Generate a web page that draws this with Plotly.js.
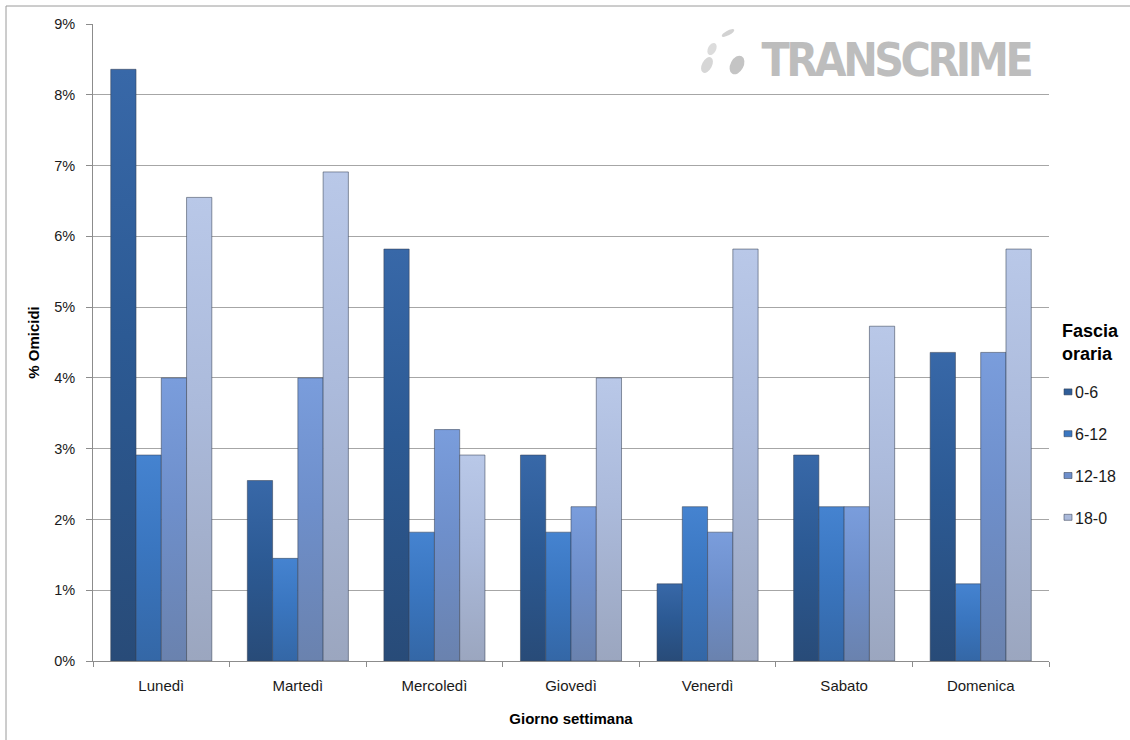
<!DOCTYPE html>
<html>
<head>
<meta charset="utf-8">
<script src="https://cdn.plot.ly/plotly-3.0.1.min.js"></script>
<style>
  html, body { margin: 0; padding: 0; background: #ffffff; }
  #chart { width: 1130px; height: 740px; }
</style>
</head>
<body>
<div id="chart"></div>
<script>
// Giorni della settimana (categorie sull'asse x)
const giorni = ['Lunedì', 'Martedì', 'Mercoledì', 'Giovedì', 'Venerdì', 'Sabato', 'Domenica'];

// Fasce orarie (serie)
const fasce = ['0-6', '6-12', '12-18', '18-0'];

// Percentuale di omicidi per giorno, una serie per fascia oraria
const omicidi_0_6   = [8.36, 2.55, 5.82, 2.91, 1.09, 2.91, 4.36];
const omicidi_6_12  = [2.91, 1.45, 1.82, 1.82, 2.18, 2.18, 1.09];
const omicidi_12_18 = [4.00, 4.00, 3.27, 2.18, 1.82, 2.18, 4.36];
const omicidi_18_0  = [6.55, 6.91, 2.91, 4.00, 5.82, 4.73, 5.82];

// Valori dei tick sull'asse y (in %)
const yTickVals = [0, 1, 2, 3, 4, 5, 6, 7, 8, 9];
const yTickText = ['0%', '1%', '2%', '3%', '4%', '5%', '6%', '7%', '8%', '9%'];

const serie = [omicidi_0_6, omicidi_6_12, omicidi_12_18, omicidi_18_0];

// Colori di base e sfumature (alto -> basso) per ogni fascia
const coloriBase = ['#2f5d98', '#3a76c0', '#6e8fcb', '#abbadb'];
const sfumature = [
  ['#3868a8', '#2c5a94', '#284b78'],
  ['#4583d0', '#3a76c0', '#3467a6'],
  ['#7a9ddc', '#6e8fcb', '#6a82ae'],
  ['#b9c8e8', '#abbadb', '#9ba6bf']
];

const FONT = 'Liberation Sans, Arial, Helvetica, sans-serif';

const traces = fasce.map((nome, i) => ({
  type: 'bar',
  name: nome,
  legendgroup: 'g' + i,
  x: giorni,
  y: serie[i],
  marker: {
    color: coloriBase[i],
    line: { color: 'rgba(55,65,85,0.55)', width: 1 }
  },
  hoverinfo: 'x+y+name'
}));

// Area del grafico in pixel e conversione in coordinate "paper"
const PL = 93, PR = 1049, PT = 24, PB = 661;
const pxX = px => (px - PL) / (PR - PL);
const pxY = py => (PB - py) / (PB - PT);

// Marchio "TRANSCRIME": segni ovali del logo
const logoSvg =
  '<svg xmlns="http://www.w3.org/2000/svg" viewBox="695 25 55 55" width="55" height="55">' +
  '<ellipse cx="728" cy="33" rx="7" ry="2.4" fill="#d2d2d2" transform="rotate(-28 728 33)"/>' +
  '<ellipse cx="712" cy="49" rx="4" ry="6.5" fill="#dcdcdc" transform="rotate(28 712 49)"/>' +
  '<ellipse cx="707" cy="65" rx="5" ry="8.5" fill="#d6d6d6" transform="rotate(28 707 65)"/>' +
  '<ellipse cx="737" cy="65" rx="6.5" ry="10" fill="#c4c4c4" transform="rotate(28 737 65)"/>' +
  '</svg>';

const layout = {
  width: 1130,
  height: 740,
  margin: { l: PL, r: 1130 - PR, t: PT, b: 740 - PB, pad: 0, autoexpand: false },
  paper_bgcolor: '#ffffff',
  plot_bgcolor: '#ffffff',
  font: { family: FONT, size: 14, color: '#1a1a1a' },
  barmode: 'group',
  bargap: 0.26,
  bargroupgap: 0,
  showlegend: true,
  legend: {
    x: pxX(1050),
    xanchor: 'left',
    y: pxY(375),
    yanchor: 'top',
    traceorder: 'grouped',
    tracegroupgap: 18,
    indentation: -15,
    font: { family: FONT, size: 16, color: '#1a1a1a' },
    bgcolor: 'rgba(0,0,0,0)',
    borderwidth: 0
  },
  xaxis: {
    type: 'category',
    categoryorder: 'array',
    categoryarray: giorni,
    showline: true,
    linecolor: '#8c8c8c',
    linewidth: 1,
    ticks: 'outside',
    tickson: 'boundaries',
    ticklen: 5,
    tickcolor: '#8c8c8c',
    showgrid: false,
    tickfont: { family: FONT, size: 15, color: '#1a1a1a' },
    ticklabelstandoff: 11,
    title: { text: '<b>Giorno settimana</b>', font: { family: FONT, size: 15, color: '#000000' }, standoff: 20 },
    fixedrange: true
  },
  yaxis: {
    range: [0, 9],
    tickmode: 'array',
    tickvals: yTickVals,
    ticktext: yTickText,
    showline: true,
    linecolor: '#8c8c8c',
    linewidth: 1,
    ticks: 'outside',
    ticklen: 6,
    tickcolor: '#8c8c8c',
    showgrid: true,
    gridcolor: '#a6a6a6',
    gridwidth: 1,
    zeroline: false,
    tickfont: { family: FONT, size: 14.5, color: '#1a1a1a' },
    ticklabelstandoff: 8,
    title: { text: '<b>% Omicidi</b>', font: { family: FONT, size: 15, color: '#000000' }, standoff: 10 },
    fixedrange: true
  },
  shapes: [
    { type: 'line', xref: 'paper', yref: 'paper', x0: pxX(6), x1: pxX(1135), y0: pxY(6), y1: pxY(6),
      line: { color: '#9a9a9a', width: 1 }, layer: 'above' },
    { type: 'line', xref: 'paper', yref: 'paper', x0: pxX(6), x1: pxX(6), y0: pxY(6), y1: pxY(745),
      line: { color: '#9a9a9a', width: 1 }, layer: 'above' }
  ],
  images: [
    { source: 'data:image/svg+xml;charset=utf-8,' + encodeURIComponent(logoSvg),
      xref: 'paper', yref: 'paper', x: pxX(695), y: pxY(25), sizex: 55 / (PR - PL), sizey: 55 / (PB - PT),
      xanchor: 'left', yanchor: 'top', sizing: 'stretch', layer: 'above' }
  ],
  annotations: [
    { text: '<b>TRANSCRIME</b>', xref: 'paper', yref: 'paper', x: pxX(896), y: pxY(60),
      xanchor: 'center', yanchor: 'middle', showarrow: false,
      font: { family: 'Liberation Sans Narrow, Arial Narrow, DejaVu Sans Condensed, sans-serif', size: 46, color: '#bdbdbd' } },
    // Titolo della legenda
    { text: '<b>Fascia<br>oraria</b>', xref: 'paper', yref: 'paper', x: pxX(1060), y: pxY(342),
      xanchor: 'left', yanchor: 'middle', align: 'left', showarrow: false,
      font: { family: FONT, size: 18, color: '#000000' } }
  ]
};

Plotly.newPlot('chart', traces, layout, { displayModeBar: false, staticPlot: true }).then(gd => {
  const svg = gd.querySelector('svg.main-svg');
  const ns = 'http://www.w3.org/2000/svg';

  // Sfumatura verticale sulle barre
  let defs = svg.querySelector('defs');
  if (!defs) { defs = document.createElementNS(ns, 'defs'); svg.insertBefore(defs, svg.firstChild); }
  sfumature.forEach((stops, i) => {
    const g = document.createElementNS(ns, 'linearGradient');
    g.setAttribute('id', 'sf' + i);
    g.setAttribute('x1', '0'); g.setAttribute('y1', '0');
    g.setAttribute('x2', '0'); g.setAttribute('y2', '1');
    [[0, stops[0]], [0.45, stops[1]], [1, stops[2]]].forEach(([o, c]) => {
      const s = document.createElementNS(ns, 'stop');
      s.setAttribute('offset', o);
      s.setAttribute('stop-color', c);
      g.appendChild(s);
    });
    defs.appendChild(g);
  });
  gd.querySelectorAll('.barlayer .trace').forEach((tr, i) => {
    tr.querySelectorAll('path').forEach(p => { p.style.fill = 'url(#sf' + i + ')'; });
  });

  // Simboli della legenda piccoli, accostati all'etichetta
  gd.querySelectorAll('.legend .traces .legendpoints path').forEach(p => {
    p.setAttribute('d', 'M17,3H9V-3H17Z');
  });

  // Scritta del marchio più compatta
  gd.querySelectorAll('.annotation-text').forEach(t => {
    if (t.textContent === 'TRANSCRIME') t.style.letterSpacing = '-3.5px';
  });
});
</script>
</body>
</html>
